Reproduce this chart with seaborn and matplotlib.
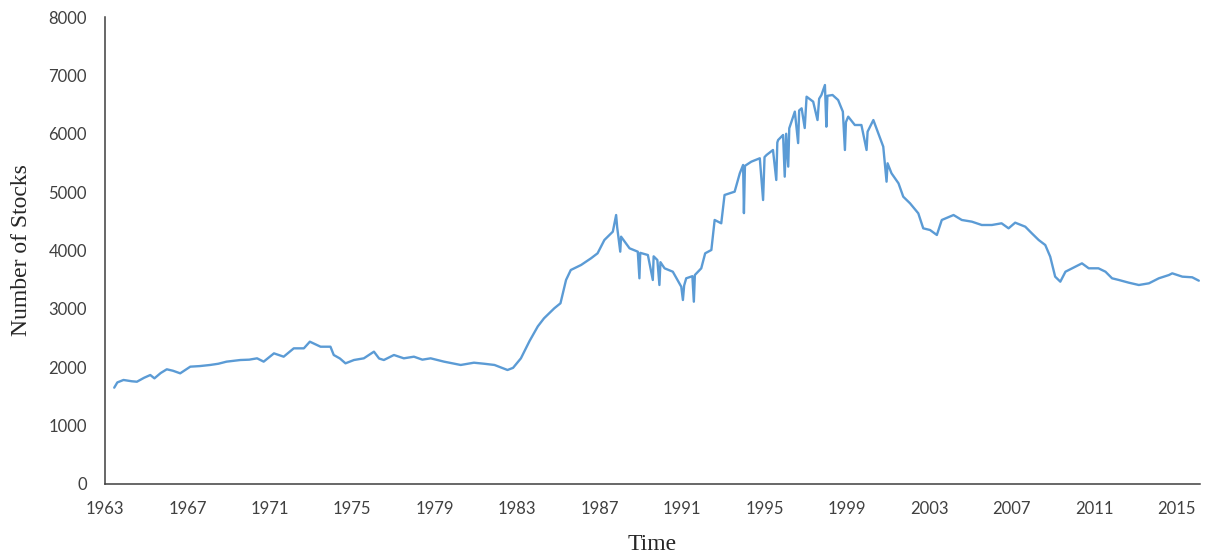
import matplotlib
matplotlib.use("Agg")
import matplotlib.pyplot as plt
import seaborn as sns
import pandas as pd

# Number of listed stocks over time (decimal years)
years = [
    1963.45, 1963.6, 1963.9, 1964.3, 1964.55, 1964.9, 1965.2, 1965.4, 1965.7, 1966.0,
    1966.3, 1966.65, 1967.14, 1967.6, 1968.1, 1968.5, 1968.9, 1969.57, 1970.0, 1970.38,
    1970.7, 1971.2, 1971.67, 1972.16, 1972.65, 1972.94, 1973.46, 1973.94, 1974.1, 1974.4,
    1974.67, 1975.08, 1975.56, 1976.05, 1976.3, 1976.53, 1977.02, 1977.5, 1977.99, 1978.4,
    1978.8, 1979.45, 1980.26, 1980.9, 1981.4, 1981.9, 1982.53, 1982.8, 1983.18, 1983.6,
    1984.0, 1984.3, 1984.8, 1985.1, 1985.37, 1985.6, 1986.1, 1986.58, 1986.9, 1987.23,
    1987.64, 1987.8, 1987.85, 1988.0, 1988.04, 1988.45, 1988.85, 1988.93, 1988.97, 1989.34,
    1989.58, 1989.62, 1989.8, 1989.9, 1989.95, 1990.15, 1990.55, 1990.96, 1991.04, 1991.1,
    1991.2, 1991.5, 1991.57, 1991.62, 1991.93, 1992.12, 1992.42, 1992.58, 1992.9, 1993.06,
    1993.55, 1993.8, 1993.96, 1994.0, 1994.05, 1994.36, 1994.77, 1994.93, 1995.0, 1995.1,
    1995.41, 1995.57, 1995.62, 1995.66, 1995.9, 1995.98, 1996.05, 1996.15, 1996.2, 1996.47,
    1996.63, 1996.68, 1996.8, 1996.95, 1997.04, 1997.36, 1997.57, 1997.65, 1997.76, 1997.93,
    1998.0, 1998.05, 1998.3, 1998.57, 1998.8, 1998.9, 1998.95, 1999.06, 1999.38, 1999.7,
    1999.95, 2000.0, 2000.28, 2000.52, 2000.76, 2000.92, 2000.97, 2001.16, 2001.5, 2001.73,
    2002.06, 2002.46, 2002.7, 2003.03, 2003.36, 2003.6, 2004.17, 2004.57, 2005.06, 2005.54,
    2006.03, 2006.5, 2006.84, 2007.16, 2007.65, 2007.97, 2008.3, 2008.62, 2008.86, 2008.98,
    2009.1, 2009.35, 2009.6, 2010.08, 2010.4, 2010.73, 2011.2, 2011.54, 2011.86, 2012.19,
    2012.67, 2013.16, 2013.65, 2014.13, 2014.62, 2014.78, 2015.27, 2015.75, 2016.07,
]
stocks = [
    1650, 1740, 1782, 1760, 1752, 1820, 1867, 1810, 1900, 1965,
    1940, 1896, 2010, 2020, 2039, 2060, 2096, 2124, 2130, 2153,
    2096, 2238, 2181, 2324, 2324, 2438, 2352, 2352, 2210, 2150,
    2067, 2124, 2153, 2267, 2150, 2124, 2210, 2153, 2181, 2130,
    2153, 2096, 2039, 2078, 2060, 2039, 1953, 1990, 2153, 2450,
    2700, 2838, 3010, 3096, 3495, 3666, 3752, 3866, 3952, 4180,
    4323, 4608, 4400, 3980, 4237, 4038, 3980, 3524, 3960, 3923,
    3495, 3900, 3837, 3409, 3800, 3695, 3637, 3380, 3152, 3400,
    3524, 3560, 3123, 3580, 3695, 3952, 4009, 4523, 4466, 4951,
    5008, 5323, 5465, 4640, 5450, 5522, 5580, 4865, 5600, 5637,
    5722, 5208, 5850, 5893, 5979, 5265, 6000, 5437, 6094, 6379,
    5840, 6400, 6436, 6098, 6635, 6550, 6235, 6600, 6664, 6835,
    6121, 6650, 6664, 6578, 6379, 5722, 6200, 6293, 6150, 6150,
    5722, 6036, 6235, 6008, 5779, 5179, 5494, 5323, 5151, 4922,
    4808, 4637, 4380, 4351, 4266, 4523, 4608, 4523, 4494, 4437,
    4437, 4466, 4380, 4477, 4408, 4294, 4180, 4094, 3895, 3723,
    3552, 3466, 3637, 3723, 3780, 3695, 3695, 3637, 3524, 3495,
    3449, 3409, 3438, 3524, 3580, 3609, 3552, 3541, 3483,
]
year_ticks = list(range(1963, 2016, 4))
count_ticks = list(range(0, 8001, 1000))

df = pd.DataFrame({"Time": years, "Stocks": stocks})

sns.set_style("white")
fig = plt.figure(figsize=(12.05, 5.56), dpi=100)
ax = fig.add_axes([0.0871, 0.1295, 0.9088, 0.8399])

sns.lineplot(data=df, x="Time", y="Stocks", ax=ax, color="#5B9BD5",
             linewidth=1.7, estimator=None, sort=False)

ax.set_xlim(1963, 2016.13)
ax.set_ylim(0, 8000)
ax.set_xticks(year_ticks)
ax.set_xticklabels([str(y) for y in year_ticks])
ax.set_yticks(count_ticks)
ax.set_yticklabels([str(c) for c in count_ticks])

for side in ("top", "right"):
    ax.spines[side].set_visible(False)
for side in ("left", "bottom"):
    ax.spines[side].set_color("#3f3f3f")
    ax.spines[side].set_linewidth(1.1)

ax.tick_params(axis="both", direction="out", length=5, width=1.1,
               color="#3f3f3f", labelcolor="#404040", labelsize=12)
ax.tick_params(axis="y", pad=8)
ax.tick_params(axis="x", pad=7)
for lab in ax.get_xticklabels() + ax.get_yticklabels():
    lab.set_family(["Lato", "DejaVu Sans"])

serif = ["Liberation Serif", "DejaVu Serif"]
ax.set_xlabel("Time", family=serif, fontsize=17, color="#262626")
ax.set_ylabel("Number of Stocks", family=serif, fontsize=17, color="#262626")
ax.xaxis.set_label_coords(0.4992, -0.107)
ax.yaxis.set_label_coords(-0.0668, 0.5)
ax.grid(False)

fig.savefig("out.png", dpi=100)
